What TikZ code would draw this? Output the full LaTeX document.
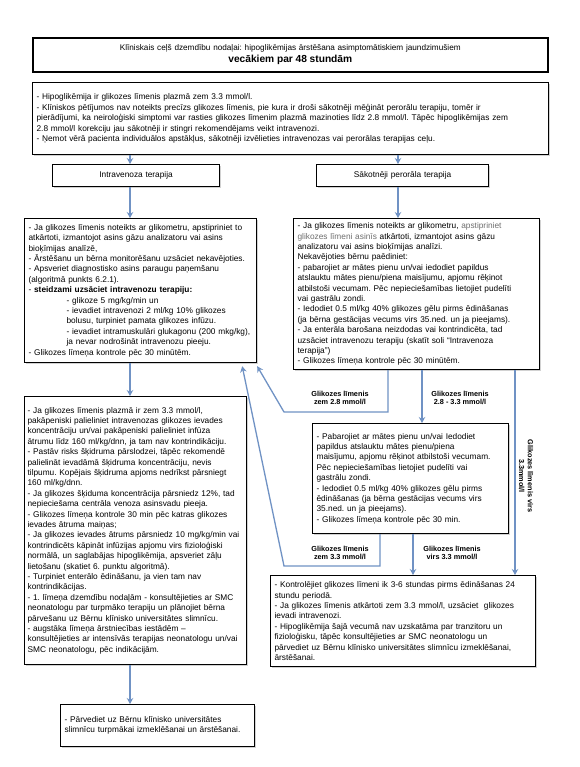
\documentclass[tikz,border=0pt]{standalone}
\usepackage{fontspec}
\setmainfont{Liberation Sans}
\usetikzlibrary{arrows.meta,shadows,calc}
\definecolor{arrblue}{RGB}{112,146,196}
\definecolor{softtext}{RGB}{110,110,110}
\frenchspacing
\begin{document}
\begin{tikzpicture}[x=1pt,y=-1pt,
  box/.style={draw=black, line width=1.2pt, fill=white, inner xsep=4pt, inner ysep=2pt,
    align=left, anchor=north west, font=\fontsize{8.3}{10.4}\selectfont,
    drop shadow={shadow xshift=1.2pt,shadow yshift=-1.2pt,fill=black!35}},
  arr/.style={draw=arrblue, line width=1.3pt, -{Stealth[length=6pt,width=6.5pt]}},
  lbl/.style={font=\bfseries\fontsize{7.3}{8.8}\selectfont, align=center, inner sep=1pt}]
\fill[white] (0,0) rectangle (579,767);
\useasboundingbox (0,0) rectangle (579,767);

\node[box, line width=1.6pt, align=center, minimum width=515, minimum height=34, text width=507,
  font=\fontsize{8.2}{11.5}\selectfont] (title) at (32,37)
  {Klīniskais ceļš dzemdību nodaļai: hipoglikēmijas ārstēšana asimptomātiskiem jaundzimušiem\\
   {\fontsize{10.2}{11}\selectfont\textbf{vecākiem par 48 stundām}}};

\node[box, minimum width=516, minimum height=72, text width=508, font=\fontsize{8.3}{10.6}\selectfont] (info) at (32,82)
  {- Hipoglikēmija ir glikozes līmenis plazmā zem 3.3 mmol/l.\\
   - Klīniskos pētījumos nav noteikts precīzs glikozes līmenis, pie kura ir droši sākotnēji mēģināt perorālu terapiju, tomēr ir\\
   pierādījumi, ka neiroloģiski simptomi var rasties glikozes līmenim plazmā mazinoties līdz 2.8 mmol/l. Tāpēc hipoglikēmijas zem\\
   2.8 mmol/l korekciju jau sākotnēji ir stingri rekomendējams veikt intravenozi.\\
   - Ņemot vērā pacienta individuālos apstākļus, sākotnēji izvēlieties intravenozas vai perorālas terapijas ceļu.};

\node[box, align=center, minimum width=167, minimum height=22, text width=159] (iv) at (52,164) {Intravenoza terapija};
\node[box, align=center, minimum width=172, minimum height=22, text width=164] (po) at (316,164) {Sākotnēji perorāla terapija};

\node[box, minimum width=232, minimum height=144, text width=224] (lb1) at (24,218)
  {- Ja glikozes līmenis noteikts ar glikometru, apstipriniet to\\
   atkārtoti, izmantojot asins gāzu analizatoru vai asins\\
   bioķīmijas analīzē,\\
   - Ārstēšanu un bērna monitorēšanu uzsāciet nekavējoties.\\
   - Apsveriet diagnostisko asins paraugu paņemšanu\\
   (algoritmā punkts 6.2.1).\\
   - \textbf{steidzami uzsāciet intravenozu terapiju:}\\
   \hspace*{38pt}- glikoze 5 mg/kg/min un\\
   \hspace*{38pt}- ievadiet intravenozi 2 ml/kg 10\% glikozes\\
   \hspace*{38pt}bolusu, turpiniet pamata glikozes infūzu.\\
   \hspace*{38pt}- ievadiet intramuskulāri glukagonu (200 mkg/kg),\\
   \hspace*{38pt}ja nevar nodrošināt intravenozu pieeju.\\
   - Glikozes līmeņa kontrole pēc 30 minūtēm.};

\node[box, minimum width=246, minimum height=151, text width=238] (rb1) at (293,218)
  {- Ja glikozes līmenis noteikts ar glikometru, \textcolor{softtext}{apstipriniet}\\
   \textcolor{softtext}{glikozes līmeni asinīs} atkārtoti, izmantojot asins gāzu\\
   analizatoru vai asins bioķīmijas analīzi.\\
   Nekavējoties bērnu paēdiniet:\\
   - pabarojiet ar mātes pienu un/vai iedodiet papildus\\
   atslauktu mātes pienu/piena maisījumu, apjomu rēķinot\\
   atbilstoši vecumam. Pēc nepieciešamības lietojiet pudelīti\\
   vai gastrālu zondi.\\
   - Iedodiet 0.5 ml/kg 40\% glikozes gēlu pirms ēdināšanas\\
   (ja bērna gestācijas vecums virs 35.ned. un ja pieejams).\\
   - Ja enterāla barošana neizdodas vai kontrindicēta, tad\\
   uzsāciet intravenozu terapiju (skatīt soli “Intravenoza\\
   terapija”)\\
   - Glikozes līmeņa kontrole pēc 30 minūtēm.};

\node[box, inner xsep=3pt, minimum width=220, minimum height=268, text width=216] (lb2) at (24,396)
  {- Ja glikozes līmenis plazmā ir zem 3.3 mmol/l,\\
   pakāpeniski palieliniet intravenozas glikozes ievades\\
   koncentrāciju un/vai pakāpeniski palieliniet infūza\\
   ātrumu līdz 160 ml/kg/dnn, ja tam nav kontrindikāciju.\\
   - Pastāv risks šķidruma pārslodzei, tāpēc rekomendē\\
   palielināt ievadāmā šķidruma koncentrāciju, nevis\\
   tilpumu. Kopējais šķidruma apjoms nedrīkst pārsniegt\\
   160 ml/kg/dnn.\\
   - Ja glikozes šķiduma koncentrācija pārsniedz 12\%, tad\\
   nepieciešama centrāla venoza asinsvadu pieeja.\\
   - Glikozes līmeņa kontrole 30 min pēc katras glikozes\\
   ievades ātruma maiņas;\\
   - Ja glikozes ievades ātrums pārsniedz 10 mg/kg/min vai\\
   kontrindicēts kāpināt infūzijas apjomu virs fizioloģiski\\
   normālā, un saglabājas hipoglikēmija, apsveriet zāļu\\
   lietošanu (skatiet 6. punktu algoritmā).\\
   - Turpiniet enterālo ēdināšanu, ja vien tam nav\\
   kontrindikācijas.\\
   - 1. līmeņa dzemdību nodaļām - konsultējieties ar SMC\\
   neonatologu par turpmāko terapiju un plānojiet bērna\\
   pārvešanu uz Bērnu klīnisko universitātes slimnīcu.\\
   - augstāka līmeņa ārstniecības iestādēm –\\
   konsultējieties ar intensīvās terapijas neonatologu un/vai\\
   SMC neonatologu, pēc indikācijām.};

\node[box, minimum width=194, minimum height=42, text width=186] (fin) at (60,704)
  {- Pārvediet uz Bērnu klīnisko universitātes\\
   slimnīcu turpmākai izmeklēšanai un ārstēšanai.};

\node[box, minimum width=196, minimum height=110, text width=188] (mid) at (312,423)
  {- Pabarojiet ar mātes pienu un/vai Iedodiet\\
   papildus atslauktu mātes pienu/piena\\
   maisījumu, apjomu rēķinot atbilstoši vecumam.\\
   Pēc nepieciešamības lietojiet pudelīti vai\\
   gastrālu zondi.\\
   - Iedodiet 0.5 ml/kg 40\% glikozes gēlu pirms\\
   ēdināšanas (ja bērna gestācijas vecums virs\\
   35.ned. un ja pieejams).\\
   - Glikozes līmeņa kontrole pēc 30 min.};

\node[box, minimum width=265, minimum height=91, text width=257] (bot) at (270,575)
  {- Kontrolējiet glikozes līmeni ik 3-6 stundas pirms ēdināšanas 24\\
   stundu periodā.\\
   - Ja glikozes līmenis atkārtoti zem 3.3 mmol/l, uzsāciet\ \ glikozes\\
   ievadi intravenozi.\\
   - Hipoglikēmija šajā vecumā nav uzskatāma par tranzitoru un\\
   fizioloģisku, tāpēc konsultējieties ar SMC neonatologu un\\
   pārvediet uz Bērnu klīnisko universitātes slimnīcu izmeklēšanai,\\
   ārstēšanai.};

% connector columns
\coordinate (xL) at (130,0);
\coordinate (xR) at (398,0);
\coordinate (x1) at (388,0);
\coordinate (x2) at (422,0);
\coordinate (x3) at (515,0);
\coordinate (x4) at (380,0);
\coordinate (x5) at (413,0);
\coordinate (k1) at (284,412);
\coordinate (k2) at (284,566);
\coordinate (tip1) at ([yshift=-3pt]lb1.south east);
\coordinate (tip2) at ([xshift=-15pt,yshift=-3pt]lb1.south east);

\draw[arr] (info.south -| xL) -- (iv.north -| xL);
\draw[arr] (info.south -| xR) -- (po.north -| xR);
\draw[arr] (iv.south -| xL) -- (lb1.north -| xL);
\draw[arr] (po.south -| xR) -- (rb1.north -| xR);
\draw[arr] (lb1.south -| xL) -- (lb2.north -| xL);
\draw[arr] (lb2.south -| xL) -- (fin.north -| xL);

\draw[arr] (rb1.south -| x1) -- (x1 |- k1) -- (k1) -- (tip1);
\draw[arr] (rb1.south -| x2) -- (mid.north -| x2);
\draw[arr] (rb1.south -| x3) -- (bot.north -| x3);
\draw[arr] (mid.south -| x4) -- (x4 |- k2) -- (k2) -- (tip2);
\draw[arr] (mid.south -| x5) -- (bot.north -| x5);

\node[lbl] (l1) at (340,398) {Glikozes līmenis\\zem 2.8 mmol/l};
\node[lbl] (l2) at (460,398) {Glikozes līmenis\\2.8 - 3.3 mmol/l};
\node[lbl, rotate=-90] (l3) at (526,476) {Glikozes līmenis virs\\3.3mmol/l};
\node[lbl] (l4) at (340,553) {Glikozes līmenis\\zem 3.3 mmol/l};
\node[lbl] (l5) at (452,553) {Glikozes līmenis\\virs 3.3 mmol/l};
\end{tikzpicture}
\end{document}
